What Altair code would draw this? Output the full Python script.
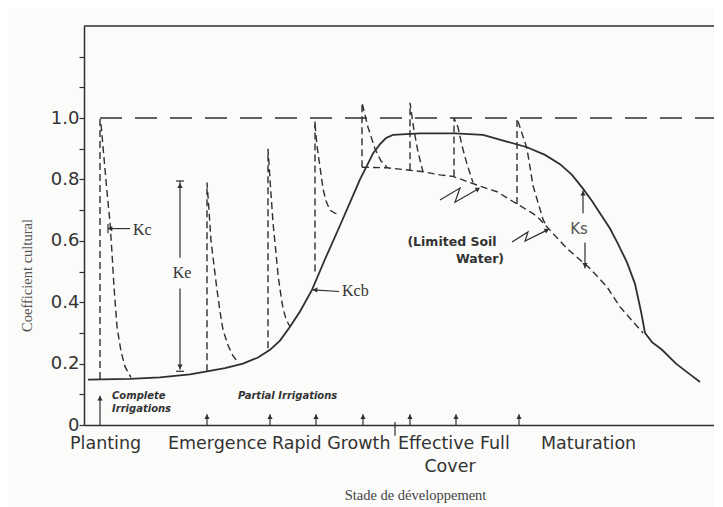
import altair as alt
import pandas as pd

# ---------------- data (x: position along the season, 0 = origin; y: crop coefficient) -------------
kcb_x = [4, 46, 76, 106, 123, 141, 159, 174, 186, 196, 206, 216, 228, 241, 256, 268, 276, 283,
         289, 296, 302, 309, 336, 371, 399, 421, 443, 461, 476, 488, 499, 508, 516, 526, 534,
         543, 551, 557, 561, 568, 578, 592, 606, 616]
kcb_y = [0.148, 0.15, 0.155, 0.165, 0.175, 0.185, 0.20, 0.22, 0.245, 0.275, 0.32, 0.37, 0.44,
         0.54, 0.65, 0.74, 0.80, 0.845, 0.885, 0.915, 0.935, 0.945, 0.95, 0.95, 0.945, 0.925,
         0.905, 0.88, 0.85, 0.815, 0.77, 0.73, 0.69, 0.64, 0.59, 0.53, 0.46, 0.37, 0.30, 0.27,
         0.245, 0.20, 0.165, 0.14]

# Kc max envelope (long dashes)
env_x = [16, 630]
env_y = [1.0, 1.0]

# Kc traces (short dashes)
rise1_x = [16, 16]
rise1_y = [0.15, 1.0]
decay1_x = [17, 20, 23, 26, 28, 30, 33, 37, 41, 47]
decay1_y = [0.98, 0.87, 0.76, 0.66, 0.56, 0.45, 0.32, 0.24, 0.19, 0.155]
spike2_x = [123, 123, 125, 127, 130, 133, 136, 139, 144, 149, 154]
spike2_y = [0.175, 0.79, 0.70, 0.60, 0.52, 0.44, 0.37, 0.31, 0.26, 0.225, 0.205]
spike3_x = [184, 184, 186, 189, 192, 194, 197, 199, 202, 206]
spike3_y = [0.25, 0.90, 0.80, 0.66, 0.56, 0.49, 0.42, 0.38, 0.345, 0.32]
rise4_x = [231, 231]
rise4_y = [0.50, 1.0]
decay4_x = [231, 233, 236, 239, 242, 246, 251, 256]
decay4_y = [0.98, 0.91, 0.84, 0.77, 0.73, 0.70, 0.69, 0.685]
spike5_x = [278, 278, 284, 291, 297, 303]
spike5_y = [0.84, 1.05, 0.97, 0.90, 0.86, 0.84]
limited_x = [278, 303, 326, 339, 356, 369, 386, 399, 413, 433, 446, 453, 463, 483, 506, 523,
             536, 548, 559]
limited_y = [0.84, 0.838, 0.83, 0.825, 0.815, 0.81, 0.79, 0.775, 0.76, 0.72, 0.695, 0.68,
             0.645, 0.575, 0.51, 0.45, 0.385, 0.34, 0.30]
spike6_x = [326, 326, 330, 334, 339]
spike6_y = [0.83, 1.05, 0.96, 0.89, 0.825]
spike7_x = [370, 370, 374, 378, 383, 389]
spike7_y = [0.81, 1.0, 0.97, 0.91, 0.85, 0.79]
rise8_x = [433, 433]
rise8_y = [0.72, 1.0]
decay8_x = [434, 443, 449, 459, 463]
decay8_y = [0.99, 0.90, 0.78, 0.67, 0.645]

# zig-zag pointers to the limited-soil-water line
zig1_x = [356, 376, 371, 394]
zig1_y = [0.733, 0.772, 0.726, 0.769]
zig2_x = [428, 444, 441, 463]
zig2_y = [0.596, 0.629, 0.599, 0.635]

# irrigation arrows
irr_x = [16, 123, 186, 232, 279, 326, 372, 435]
irr_top = [0.095, 0.035, 0.035, 0.035, 0.035, 0.035, 0.035, 0.035]

# other segments: x, y, x2, y2
seg_x = [311, 96, 96, 92, 92, 25, 24, 229, 499, 501]
seg_y = [-0.035, 0.795, 0.445, 0.795, 0.175, 0.64, 0.625, 0.44, 0.69, 0.595]
seg_x2 = [311, 96, 96, 100, 100, 46, 24, 255, 499, 501]
seg_y2 = [0.01, 0.545, 0.18, 0.795, 0.175, 0.64, 0.655, 0.435, 0.765, 0.51]

# arrowheads: x, y, angle (0 = pointing up)
head_x = [96, 96, 26, 231, 499, 501, 394, 463]
head_y = [0.78, 0.19, 0.64, 0.44, 0.755, 0.52, 0.769, 0.635]
head_angle = [0, 180, 270, 270, 0, 180, 60, 63]

# annotations
serif_left_text = ["Kc", "Kcb"]
serif_left_x = [49, 258]
serif_left_y = [0.635, 0.435]
serif_center_text = ["Ke"]
serif_center_x = [98]
serif_center_y = [0.495]
ks_text = ["Ks"]
ks_x = [495]
ks_y = [0.64]
limited_text = ["(Limited Soil", "Water)"]
limited_tx = [368, 396]
limited_ty = [0.596, 0.541]
small_text = ["Complete", "Irrigations", "Partial Irrigations"]
small_x = [28, 28, 154]
small_y = [0.094, 0.052, 0.094]
stage_text = ["Planting", "Emergence", "Rapid Growth", "Effective Full", "Maturation"]
stage_x = [-14, 84, 188, 314, 457]
stage_y = [-0.062, -0.062, -0.062, -0.062, -0.062]
stage2_text = ["Cover"]
stage2_x = [366]
stage2_y = [-0.137]

y_tick_values = [0, 0.1, 0.2, 0.3, 0.4, 0.5, 0.6, 0.7, 0.8, 0.9, 1.0, 1.1, 1.2]

# ---------------- build ----------------
INK = "#2f2f2f"
XS = alt.Scale(domain=[0, 630], nice=False, zero=False)
YS = alt.Scale(domain=[0, 1.3], nice=False, zero=False)

X_AXIS = alt.Axis(
    labels=False, ticks=False, grid=False, domainColor=INK, domainWidth=1.5,
    title="Stade de développement", titleX=331, titleY=70, titleAlign="center",
    titleBaseline="middle", titleFont="Liberation Serif", titleFontSize=14.5,
    titleFontWeight="normal", titleColor="#444")
Y_AXIS = alt.Axis(
    values=y_tick_values, grid=False, domainColor=INK, domainWidth=1.5,
    tickColor=INK, tickSize=5, tickWidth=1.2, labelPadding=0,
    labelExpr="(round(datum.value*10) % 2 == 1 || datum.value > 1.05) ? '' : (datum.value == 0 ? '0' : format(datum.value, '.1f'))",
    labelFont="DejaVu Sans", labelFontSize=18, labelColor="#333",
    title="Coefficient cultural", titleX=-57, titleY=249, titleAngle=270,
    titleAlign="center", titleBaseline="middle", titleFont="Liberation Serif",
    titleFontSize=14.5, titleFontWeight="normal", titleColor="#555")


def paths(named):
    rows = []
    for name, (xs, ys) in named.items():
        for i, (a, b) in enumerate(zip(xs, ys)):
            rows.append({"path": name, "i": i, "x": a, "y": b})
    return pd.DataFrame(rows)


def xy():
    return dict(x=alt.X("x:Q", scale=XS, axis=X_AXIS), y=alt.Y("y:Q", scale=YS, axis=Y_AXIS))


kcb_df = pd.DataFrame({"x": kcb_x, "y": kcb_y, "i": range(len(kcb_x))})
kcb = alt.Chart(kcb_df).mark_line(color=INK, strokeWidth=1.8).encode(**xy(), order="i:Q")

short_df = paths({
    "rise1": (rise1_x, rise1_y), "decay1": (decay1_x, decay1_y),
    "spike2": (spike2_x, spike2_y), "spike3": (spike3_x, spike3_y),
    "rise4": (rise4_x, rise4_y), "decay4": (decay4_x, decay4_y),
    "spike5": (spike5_x, spike5_y), "limited": (limited_x, limited_y),
    "spike6": (spike6_x, spike6_y), "spike7": (spike7_x, spike7_y),
    "rise8": (rise8_x, rise8_y), "decay8": (decay8_x, decay8_y),
})
short = alt.Chart(short_df).mark_line(color=INK, strokeWidth=1.4, strokeDash=[7, 4]).encode(
    **xy(), detail="path:N", order="i:Q")

env_df = paths({"env": (env_x, env_y)})
env = alt.Chart(env_df).mark_line(color=INK, strokeWidth=1.5, strokeDash=[22, 13]).encode(
    **xy(), detail="path:N", order="i:Q")

zig_df = paths({"z1": (zig1_x, zig1_y), "z2": (zig2_x, zig2_y)})
zig = alt.Chart(zig_df).mark_line(color=INK, strokeWidth=1.2).encode(
    **xy(), detail="path:N", order="i:Q")

seg_df = pd.DataFrame({
    "x": seg_x + irr_x, "y": seg_y + [0] * len(irr_x),
    "x2": seg_x2 + irr_x, "y2": seg_y2 + irr_top,
})
segs = alt.Chart(seg_df).mark_rule(color=INK, strokeWidth=1.2).encode(
    **xy(), x2="x2:Q", y2="y2:Q")

head_df = pd.DataFrame({
    "x": head_x + irr_x, "y": head_y + [t - 0.008 for t in irr_top],
    "a": head_angle + [0] * len(irr_x),
})
heads = alt.Chart(head_df).mark_point(shape="triangle-up", filled=True, color=INK,
                                      size=28, opacity=1).encode(
    **xy(), angle=alt.Angle("a:Q", scale=None))

frame_df = pd.DataFrame({"x": [0], "x2": [630], "y": [1.3]})
frame_top = alt.Chart(frame_df).mark_rule(color=INK, strokeWidth=1.5).encode(
    **xy(), x2="x2:Q")


def texts(t, x, y, color="#333", **kw):
    df = pd.DataFrame({"t": t, "x": x, "y": y})
    return alt.Chart(df).mark_text(color=color, baseline="middle", **kw).encode(
        **xy(), text="t:N")


labels = [
    texts(serif_left_text, serif_left_x, serif_left_y, align="left",
          font="Liberation Serif", fontSize=16),
    texts(serif_center_text, serif_center_x, serif_center_y, align="center",
          font="Liberation Serif", fontSize=16),
    texts(ks_text, ks_x, ks_y, align="center", font="DejaVu Sans", fontSize=15, color="#555"),
    texts(limited_text, limited_tx, limited_ty, align="center", font="DejaVu Sans",
          fontSize=12.5, fontWeight="bold"),
    texts(small_text, small_x, small_y, align="left", font="DejaVu Sans", fontSize=10,
          fontWeight="bold", fontStyle="italic"),
    texts(stage_text, stage_x, stage_y, align="left", font="DejaVu Sans", fontSize=17.5),
    texts(stage2_text, stage2_x, stage2_y, align="center", font="DejaVu Sans", fontSize=17.5),
]

chart = alt.layer(kcb, env, short, zig, segs, heads, frame_top, *labels).properties(
    width=630, height=399,
    padding={"left": 76, "top": 18, "right": 0, "bottom": 82},
    autosize=alt.AutoSizeParams(type="none"),
    background="#fbfbfa",
).configure_view(stroke=None)

chart.save("out.html", embed_options={"renderer": "svg", "actions": False})
